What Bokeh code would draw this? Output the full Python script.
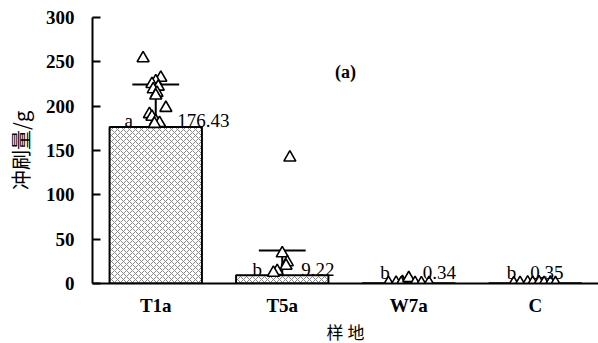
from bokeh.plotting import figure
from bokeh.models import FixedTicker
from bokeh.core.properties import value
from bokeh.embed import file_html
from bokeh.resources import INLINE

categories = ["T1a", "T5a", "W7a", "C"]
means = [176.43, 9.22, 0.34, 0.35]
sds = [48.0, 28.0, 0.0, 0.0]
letters = ["a", "b", "b", "b"]
mean_labels = ["176.43", "9.22", "0.34", "0.35"]

# raw observations (category index, jitter, value)
pts_cat = [0]*14 + [1]*6 + [2]*8 + [3]*8
pts_jit = [-0.10, 0.04, 0.00, -0.03, 0.02, -0.02, 0.01, 0.00, -0.05, 0.08, -0.03, 0.00, 0.03, -0.01,
           0.06, 0.00, 0.04, 0.03, -0.04, -0.07,
           -0.16, -0.10, -0.05, -0.06, 0.00, 0.05, 0.10, 0.16,
           -0.17, -0.12, -0.06, -0.02, 0.03, 0.07, 0.12, 0.16]
pts_val = [254, 232, 228, 225, 222, 219, 215, 212, 191, 198, 188, 183, 181, 180,
           142, 34, 24, 20, 14, 12,
           0.5, 0.8, 1.5, 0.3, 6.0, 0.4, 0.2, 0.6,
           0.3, 0.6, 1.0, 0.8, 1.2, 0.5, 0.9, 0.4]

# layout: label offsets relative to category centre
letter_dx = [-0.18, -0.16, -0.15, -0.15]
num_dx = [0.17, 0.15, 0.11, -0.04]

serif = "Times New Roman"
cjk = "Noto Sans CJK SC"

p = figure(frame_width=506, frame_height=266, x_range=(0, 4.0), y_range=(0, 300),
           output_backend="svg", toolbar_location=None,
           min_border_left=92, min_border_top=17, min_border_right=0, min_border_bottom=40)
p.outline_line_color = None
p.grid.visible = False
p.background_fill_color = "white"

xc = [i + 0.5 for i in range(len(categories))]
p.vbar(x=xc, top=means, bottom=0, width=0.73, fill_color="white",
       line_color="black", line_width=2, hatch_pattern="x", hatch_color="#888888",
       hatch_scale=6, hatch_weight=1)

# error bars (upper only)
tops = [m + s for m, s in zip(means, sds)]
has = [s > 0 for s in sds]
ex = [x for x, h in zip(xc, has) if h]
em = [m for m, h in zip(means, has) if h]
et = [t for t, h in zip(tops, has) if h]
p.segment(x0=ex, y0=em, x1=ex, y1=et, line_color="black", line_width=2)
p.segment(x0=[x - 0.185 for x in ex], y0=et, x1=[x + 0.185 for x in ex], y1=et,
          line_color="black", line_width=2)

px = [pts_cat[i] + 0.5 + pts_jit[i] for i in range(len(pts_val))]
p.scatter(x=px, y=pts_val, marker="triangle", size=12, fill_color="white",
          line_color="black", line_width=1.6)

ly = [max(m + 7, 12) for m in means]
p.text(x=[x + d for x, d in zip(xc, letter_dx)], y=ly, text=letters,
       text_font=value(serif), text_font_size="19px", text_align="right",
       text_baseline="alphabetic", text_color="black")
p.text(x=[x + d for x, d in zip(xc, num_dx)], y=ly, text=mean_labels,
       text_font=value(serif), text_font_size="19px", text_align="left",
       text_baseline="alphabetic", text_color="black")

p.text(x=[2.0], y=[238], text=["(a)"], text_font=value(serif), text_font_size="18px",
       text_font_style="bold", text_align="center", text_baseline="middle",
       text_color="black")

# axes
p.xaxis.ticker = FixedTicker(ticks=xc)
p.xaxis.major_label_overrides = {x: c for x, c in zip(xc, categories)}
p.xaxis.major_tick_line_color = None
p.xaxis.minor_tick_line_color = None
p.xaxis.axis_line_width = 2
p.xaxis.major_label_text_font = serif
p.xaxis.major_label_text_font_size = "19px"
p.xaxis.major_label_text_font_style = "bold"
p.xaxis.major_label_text_color = "black"
p.xaxis.major_label_standoff = 5
p.xaxis.axis_label = "样 地"
p.xaxis.axis_label_text_font = cjk
p.xaxis.axis_label_text_font_size = "17px"
p.xaxis.axis_label_text_font_style = "normal"
p.xaxis.axis_label_text_color = "black"
p.xaxis.axis_label_standoff = 0

p.yaxis.ticker = FixedTicker(ticks=[0, 50, 100, 150, 200, 250, 300])
p.yaxis.major_tick_in = 8
p.yaxis.major_tick_out = 0
p.yaxis.major_tick_line_width = 2
p.yaxis.minor_tick_line_color = None
p.yaxis.axis_line_width = 2
p.yaxis.major_label_text_font = serif
p.yaxis.major_label_text_font_size = "19px"
p.yaxis.major_label_text_font_style = "bold"
p.yaxis.major_label_text_color = "black"
p.yaxis.major_label_standoff = 18
p.yaxis.axis_label = "冲刷量/g"
p.yaxis.axis_label_text_font = cjk
p.yaxis.axis_label_text_font_size = "20px"
p.yaxis.axis_label_text_font_style = "normal"
p.yaxis.axis_label_text_color = "black"
p.yaxis.axis_label_standoff = 8

open("out.html", "w").write(file_html(p, INLINE))
